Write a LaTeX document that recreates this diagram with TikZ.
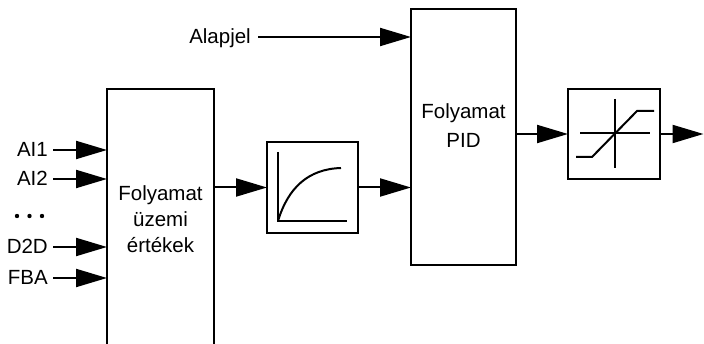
\documentclass[tikz,border=0pt]{standalone}
\usepackage{fontspec}
\setmainfont{Liberation Sans}
\usetikzlibrary{arrows.meta}
\begin{document}
\begin{tikzpicture}[x=1pt,y=-1pt,
  blk/.style={draw,line width=2pt,inner sep=0pt,outer sep=0pt},
  sig/.style={line width=2pt,-{Triangle[length=31pt,width=18pt]}},
  lbl/.style={font=\fontsize{20.5}{26}\selectfont,inner sep=0pt},
  sym/.style={line width=2pt}]
\useasboundingbox (0,0) rectangle (704,344);
\clip (0,0) rectangle (704,344);
% blocks
\node[blk,minimum width=107pt,minimum height=280pt] (meas) at (160.5,229) {};
\node[lbl,align=center] (meast) at (160.5,219.5) {Folyamat\\üzemi\\értékek};
\node[blk,minimum width=91pt,minimum height=91pt] (filt) at (312.5,187.5) {};
\node[blk,minimum width=105pt,minimum height=256pt] (pid) at (463.5,137) {};
\node[lbl,align=center,font=\fontsize{20.5}{28.4}\selectfont] (pidt) at (463.5,125.5) {Folyamat\\PID};
\node[blk,minimum width=92pt,minimum height=90pt] (sat) at (614,134) {};
% input labels
\node[lbl,anchor=base east] (ai1) at (48,157) {AI1};
\node[lbl,anchor=base east] (ai2) at (48,186) {AI2};
\node[lbl,anchor=base east] (d2d) at (48,254) {D2D};
\node[lbl,anchor=base east] (fba) at (48,285) {FBA};
\node[lbl,anchor=base east] (ref) at (251,44) {Alapjel};
\fill (17,216) circle (2.2pt) (29.5,216) circle (2.2pt) (42,216) circle (2.2pt);
% input arrows
\coordinate (c1) at (53,150); \coordinate (c2) at (53,179);
\coordinate (c3) at (53,247); \coordinate (c4) at (53,278);
\coordinate (cr) at (258,37);
\draw[sig] (c1) -- (c1 -| meas.west);
\draw[sig] (c2) -- (c2 -| meas.west);
\draw[sig] (c3) -- (c3 -| meas.west);
\draw[sig] (c4) -- (c4 -| meas.west);
\draw[sig] (cr) -- (cr -| pid.west);
% chain
\draw[sig] (meas.east |- filt.west) -- (filt.west);
\draw[sig] (filt.east) -- (filt.east -| pid.west);
\draw[sig] (pid.east |- sat.west) -- (sat.west);
\coordinate (out) at (703.5,134);
\draw[sig] (sat.east) -- (out);
% filter symbol
\draw[line width=1.6pt] (278,152) -- (278,221) -- (347,221);
\draw[sym] (278,221) .. controls (288,188) and (308,169) .. (341,168);
% saturation symbol
\draw[line width=1.6pt] (580,133) -- (650,133) (615,99) -- (615,168);
\draw[sym] (576,157) -- (592,157) -- (637,111) -- (654,111);
\end{tikzpicture}
\end{document}
